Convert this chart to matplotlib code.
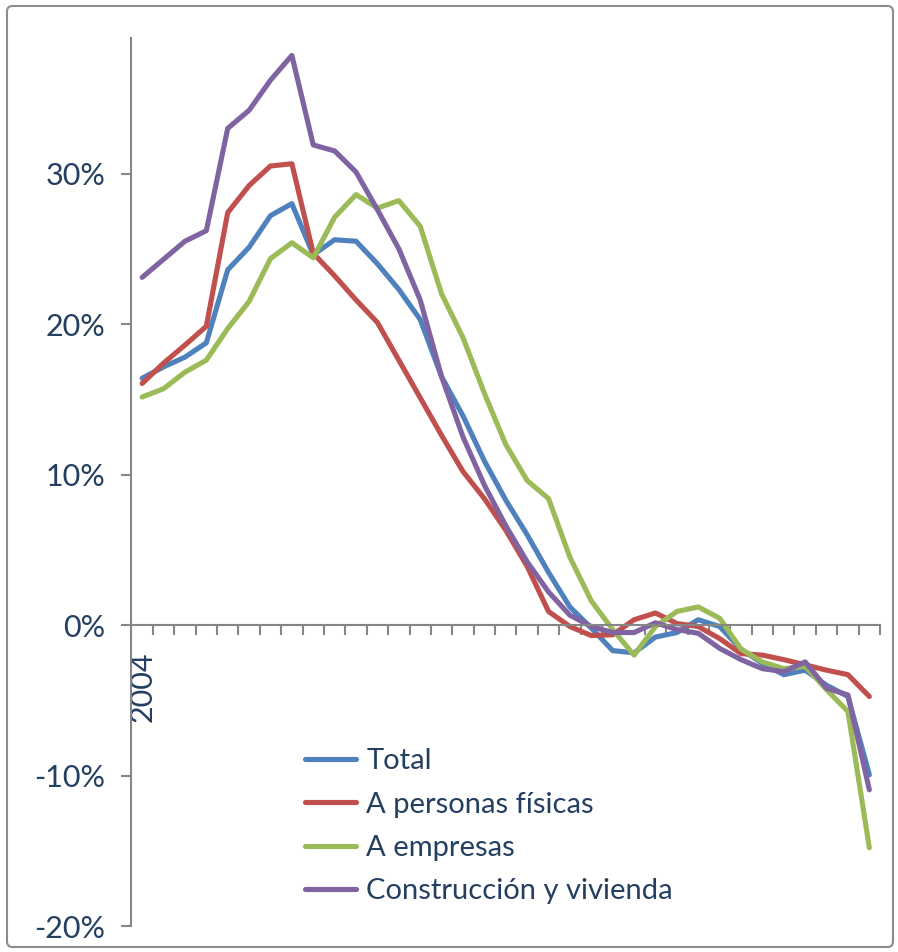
import matplotlib
matplotlib.use("Agg")
import matplotlib.pyplot as plt
from matplotlib.patches import FancyBboxPatch
from matplotlib.ticker import FuncFormatter
import numpy as np

plt.rcParams['font.family'] = ['Lato', 'DejaVu Sans']

# quarterly, 2004 Q1 .. 2012 Q3
quarters = np.arange(35)
first_label = '2004'

total = [16.4, 17.15, 17.8, 18.75, 23.6, 25.1, 27.2, 28.0, 24.6, 25.6, 25.5, 24.0,
         22.3, 20.3, 16.5, 13.9, 10.9, 8.3, 6.0, 3.5, 1.2, -0.2, -1.7, -1.85,
         -0.8, -0.5, 0.35, -0.1, -1.6, -2.55, -3.3, -3.0, -4.0, -4.75, -9.95]
personas = [16.05, 17.4, 18.6, 19.85, 27.4, 29.2, 30.5, 30.65, 24.7, 23.2, 21.6, 20.1,
            17.6, 15.1, 12.6, 10.2, 8.4, 6.3, 3.9, 0.9, -0.1, -0.7, -0.65, 0.35,
            0.8, 0.1, -0.1, -0.9, -1.9, -2.0, -2.3, -2.65, -3.0, -3.3, -4.75]
empresas = [15.15, 15.7, 16.8, 17.6, 19.7, 21.5, 24.35, 25.4, 24.4, 27.1, 28.6, 27.7,
            28.2, 26.5, 22.0, 19.1, 15.4, 12.0, 9.6, 8.4, 4.5, 1.6, -0.3, -2.0,
            -0.1, 0.9, 1.2, 0.45, -1.6, -2.45, -2.9, -2.75, -4.3, -5.75, -14.8]
construccion = [23.1, 24.3, 25.5, 26.2, 33.0, 34.2, 36.2, 37.85, 31.9, 31.5, 30.1, 27.6,
                25.0, 21.6, 16.5, 12.5, 9.3, 6.6, 4.2, 2.2, 0.65, -0.1, -0.5, -0.5,
                0.15, -0.3, -0.55, -1.55, -2.3, -2.9, -3.1, -2.45, -4.2, -4.65, -10.95]

series = [
    ('Total', total, '#4F81BD'),
    ('A personas físicas', personas, '#C0504D'),
    ('A empresas', empresas, '#9BBB59'),
    ('Construcción y vivienda', construccion, '#8064A2'),
]

text_color = '#243F60'
axis_color = '#868686'

fig = plt.figure(figsize=(8.98, 9.52), dpi=100)
ax = fig.add_axes([0.1464, 0.0273, 0.98 - 0.1464, 0.96 - 0.0273])

for name, vals, col in series:
    ax.plot(quarters, vals, color=col, lw=3.7, label=name, solid_capstyle='round',
            solid_joinstyle='round')

ax.set_xlim(-0.5, 34.5)
ax.set_ylim(-20, 39)

ax.spines['top'].set_visible(False)
ax.spines['right'].set_visible(False)
ax.spines['bottom'].set_position(('data', 0))
for s in ['left', 'bottom']:
    ax.spines[s].set_color(axis_color)
    ax.spines[s].set_linewidth(1.5)

ax.set_yticks([-20, -10, 0, 10, 20, 30])
ax.yaxis.set_major_formatter(FuncFormatter(lambda v, p: f'{v:.0f}%'))
ax.tick_params(axis='y', length=7, width=1.5, color=axis_color, pad=12,
               labelsize=22, labelcolor=text_color)

ax.set_xticks([0])
ax.set_xticklabels([first_label], rotation=90, va='top')
ax.set_xticks(np.arange(-0.5, 35, 1), minor=True)
ax.tick_params(axis='x', which='major', length=0, pad=19, labelsize=22,
               labelcolor=text_color)
ax.tick_params(axis='x', which='minor', length=7, width=1.5, color=axis_color,
               direction='out')

leg = ax.legend(loc='upper left', bbox_to_anchor=(305 / 898, 1 - 748 / 952),
                bbox_transform=fig.transFigure, frameon=False, fontsize=21,
                handlelength=1.75, handletextpad=0.35, labelspacing=0.6,
                borderpad=0, borderaxespad=0)
for t in leg.get_texts():
    t.set_color(text_color)

# outer chart frame
frame = FancyBboxPatch((7 / 898, 5 / 952), 886 / 898, 941 / 952,
                       boxstyle='round,pad=0,rounding_size=0.006',
                       transform=fig.transFigure, fill=False,
                       edgecolor='#8C8C8C', lw=1.5, zorder=-1)
fig.patches.append(frame)

fig.savefig('out.png', dpi=100)
